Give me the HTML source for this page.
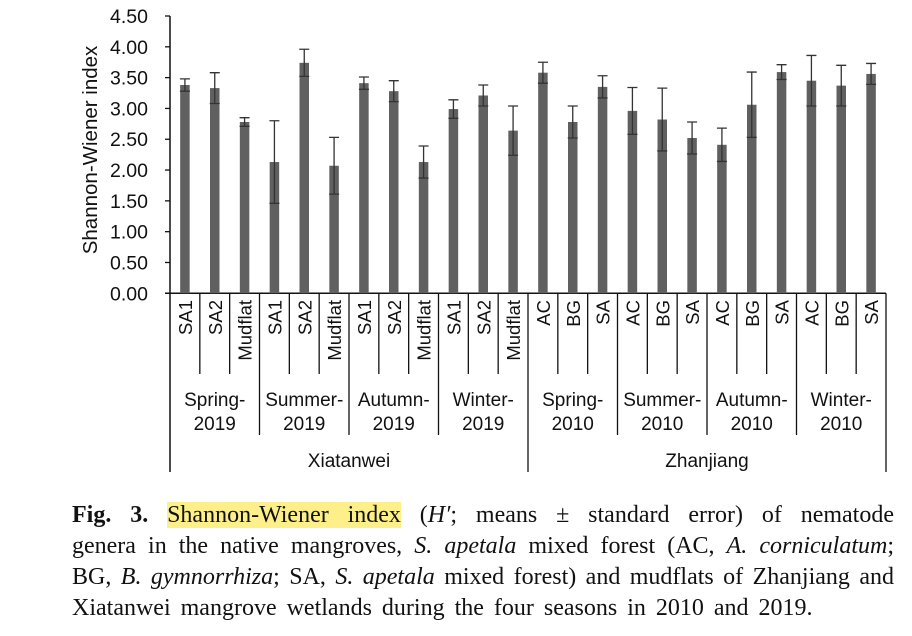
<!DOCTYPE html>
<html><head><meta charset="utf-8"><style>
body{margin:0;background:#fff;width:912px;height:636px;overflow:hidden}
svg text{font-family:"Liberation Sans",Arial,sans-serif;fill:#111}
.cap{position:absolute;left:72px;width:822px;top:500px;font-family:"Liberation Serif",serif;font-size:24px;color:#111;line-height:31px}
.cap div{text-align:justify;text-align-last:justify;white-space:nowrap}
.cap div.last{text-align-last:left;word-spacing:4px}
.hl{background:#fdf08a}
</style></head><body>
<svg id="chart" width="912" height="490" style="position:absolute;left:0;top:0"></svg>
<div class="cap">
<div><b>Fig. 3.</b> <span class="hl">Shannon-Wiener index</span> (<i>H′</i>; means ± standard error) of nematode</div>
<div>genera in the native mangroves, <i>S. apetala</i> mixed forest (AC, <i>A. corniculatum</i>;</div>
<div>BG, <i>B. gymnorrhiza</i>; SA, <i>S. apetala</i> mixed forest) and mudflats of Zhanjiang and</div>
<div class="last">Xiatanwei mangrove wetlands during the four seasons in 2010 and 2019.</div>
</div>
<script>
const categories=["SA1","SA2","Mudflat","SA1","SA2","Mudflat","SA1","SA2","Mudflat","SA1","SA2","Mudflat","AC","BG","SA","AC","BG","SA","AC","BG","SA","AC","BG","SA"];
const values=[3.38,3.33,2.78,2.13,3.74,2.07,3.41,3.28,2.13,2.99,3.21,2.64,3.58,2.78,3.35,2.96,2.82,2.52,2.41,3.06,3.59,3.45,3.37,3.56];
const errors=[0.10,0.25,0.07,0.67,0.22,0.46,0.10,0.17,0.26,0.15,0.17,0.40,0.17,0.26,0.18,0.38,0.51,0.26,0.27,0.53,0.12,0.41,0.33,0.17];
const seasons=[["Spring-","2019"],["Summer-","2019"],["Autumn-","2019"],["Winter-","2019"],["Spring-","2010"],["Summer-","2010"],["Autumn-","2010"],["Winter-","2010"]];
const sites=["Xiatanwei","Zhanjiang"];
const yTicks=[0,0.5,1,1.5,2,2.5,3,3.5,4,4.5];
const NS="http://www.w3.org/2000/svg",svg=document.getElementById('chart');
const X0=170,X1=886,Y0=293.3,YT=16,YMAX=4.5;
const step=(X1-X0)/categories.length;
const y=v=>Y0-(v/YMAX)*(Y0-YT);
const xc=i=>X0+step*(i+0.5);
function mk(t,a){const e=document.createElementNS(NS,t);for(const k in a)e.setAttribute(k,a[k]);svg.appendChild(e);return e;}
let ax=mk('line',{x1:X0,y1:YT,x2:X0,y2:472,stroke:'#111','stroke-width':1.5});


yTicks.forEach(v=>{
 let t=mk('line',{x1:X0-5,x2:X0,y1:y(v),y2:y(v),stroke:'#111','stroke-width':1.3});
 
 
 let l=mk('text',{x:148,y:y(v)+7,'text-anchor':'end','font-size':19.5});
 l.textContent=v.toFixed(2);
 
 
});
let yt=mk('text',{transform:'translate(97,150) rotate(-90)','text-anchor':'middle','font-size':20.5});
yt.textContent='Shannon-Wiener index';


let xa=mk('line',{x1:X0-5,x2:X1,y1:Y0,y2:Y0,stroke:'#111','stroke-width':1.5});


values.forEach((v,i)=>{
 const bw=9.5;
 let b=mk('rect',{x:xc(i)-bw/2,y:y(v),width:bw,height:Y0-y(v),fill:'#606060'});
 
 
 const e=errors[i];
 let g=mk('path',{d:`M${xc(i)},${y(v-e)}V${y(v+e)}M${xc(i)-5},${y(v+e)}H${xc(i)+5}M${xc(i)-5},${y(v-e)}H${xc(i)+5}`,stroke:'#333','stroke-width':1.3,fill:'none'});
 
 
 let l=mk('text',{transform:`translate(${xc(i)+7},${300}) rotate(-90)`,'text-anchor':'end','font-size':18.5});
 l.textContent=categories[i];
 
 
});
for(let i=1;i<=categories.length;i++){
 const xx=X0+step*i;
 const len=(i%12===0)?472:(i%3===0?435:374);
 let d=mk('line',{x1:xx,x2:xx,y1:Y0,y2:len,stroke:'#111','stroke-width':1.3});
 
 
}
seasons.forEach((s,j)=>{
 const cx=X0+step*(3*j+1.5);
 s.forEach((line,k)=>{
  let t=mk('text',{x:cx,y:406+k*24,'text-anchor':'middle','font-size':19});
  t.textContent=line;
  
  
 });
});
sites.forEach((s,j)=>{
 let t=mk('text',{x:X0+step*(12*j+6),y:467,'text-anchor':'middle','font-size':19});
 t.textContent=s;
 
 
});
</script>
</body></html>
